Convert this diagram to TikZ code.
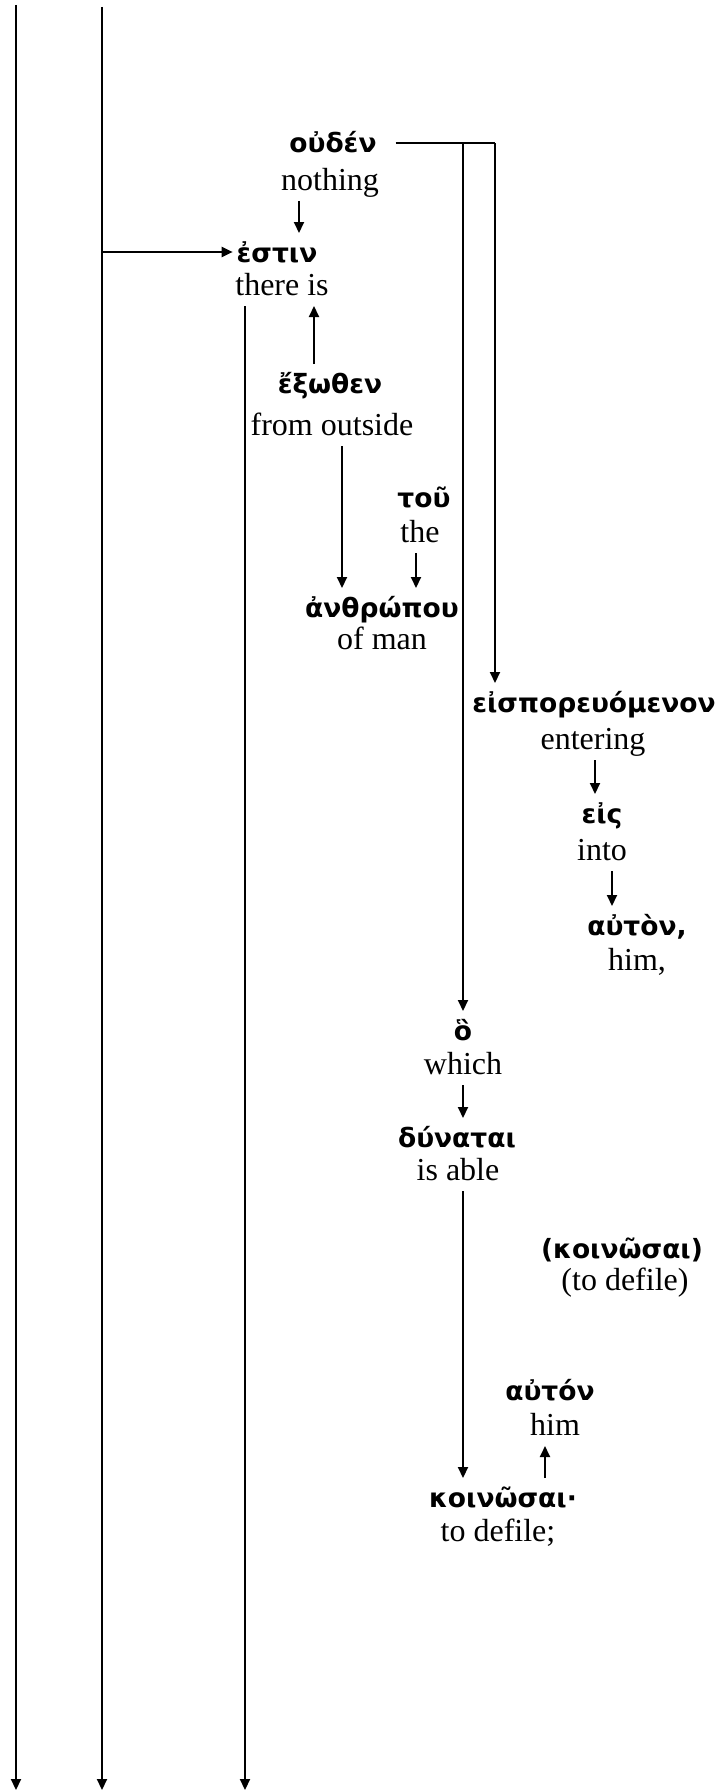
\documentclass[tikz,border=0pt]{standalone}
\usepackage{fontspec}
\setmainfont{Liberation Serif}
\newfontfamily\greekfont{DejaVu Sans}
\usetikzlibrary{arrows.meta}
\tikzset{
  gk/.style={font=\greekfont\bfseries\fontsize{26.5}{30}\selectfont, inner xsep=3pt, inner ysep=0pt, text height=28pt, text depth=8pt},
  en/.style={font=\fontsize{32}{36}\selectfont, inner xsep=3pt, inner ysep=0pt, text height=24pt, text depth=10pt},
  arr/.style={-{Triangle[length=11pt,width=10pt]}},
}
\begin{document}
\begin{tikzpicture}[x=1pt,y=-1pt,line width=2pt]
            \useasboundingbox (0,0) rectangle (718,1790);
            % left lines
            \coordinate (L1) at (16,5);
            \coordinate (L2) at (102,7);
            \draw[arr] (L1) -- (16,1790);
            \draw[arr] (L2) -- (102,1790);

            \node[gk] (ouden) at (333,143) {οὐδέν};
            \node[en] (nothing) at (330,183) {nothing};
            \node[gk] (estin) at (277,252) {ἐστιν};
            \node[en] (thereis) at (282,288) {there is};

            \node[gk] (exothen) at (330,383) {ἔξωθεν};
            \node[en] (fromout) at (332,428) {from outside};
            \node[gk] (tou) at (424,497) {τοῦ};
            \node[en] (the) at (420,535) {the};
            \node[gk] (anthropou) at (382,607) {ἀνθρώπου};
            \node[en] (ofman) at (382,642) {of man};

            \node[gk] (eispor) at (594,702) {εἰσπορευόμενον};
            \node[en] (entering) at (593,742) {entering};
            \node[gk] (eis) at (602,813) {εἰς};
            \node[en] (into) at (602,853) {into};
            \node[gk] (auton) at (637,925) {αὐτὸν,};
            \node[en] (him) at (637,963) {him,};

            \node[gk] (ho) at (463,1030) {ὃ};
            \node[en] (which) at (463,1067) {which};
            \node[gk] (dynatai) at (457,1137) {δύναται};
            \node[en] (isable) at (458,1173) {is able};
            \node[gk] (koinE) at (622,1248) {(κοινῶσαι)};
            \node[en] (todefileE) at (625,1283) {(to defile)};
            \node[gk] (autonB) at (550,1390) {αὐτόν};
            \node[en] (himB) at (555,1428) {him};
            \node[gk] (koinosai) at (503,1497) {κοινῶσαι·};
            \node[en] (todefile) at (498,1534) {to defile;};

            \coordinate (J1) at (463,0 |- ouden.east);
            \coordinate (J2) at (495,0 |- ouden.east);

            \draw[arr] (L2 |- estin.west) -- (estin.west);
            \draw[arr] (299,0 |- nothing.south) -- (299,0 |- estin.north);
            \draw[arr] (245,0 |- thereis.south) -- (245,1790);
            \draw[arr] (314,0 |- exothen.north) -- (314,0 |- thereis.south);
            \draw[arr] (342,0 |- fromout.south) -- (342,0 |- anthropou.north);
            \draw[arr] (416,0 |- the.south) -- (416,0 |- anthropou.north);
            \draw ([xshift=15pt]ouden.east) -- (J2);
            \draw[arr] (J2) -- (J2 |- eispor.north);
            \draw[arr] (J1) -- (J1 |- ho.north);
            \draw[arr] (595,0 |- entering.south) -- (595,0 |- eis.north);
            \draw[arr] (612,0 |- into.south) -- (612,0 |- auton.north);
            \draw[arr] (which.south) -- (which.south |- dynatai.north);
            \draw[arr] (463,0 |- isable.south) -- (463,0 |- koinosai.north);
            \draw[arr] (545,0 |- koinosai.north) -- (545,0 |- himB.south);
          \end{tikzpicture}
\end{document}
